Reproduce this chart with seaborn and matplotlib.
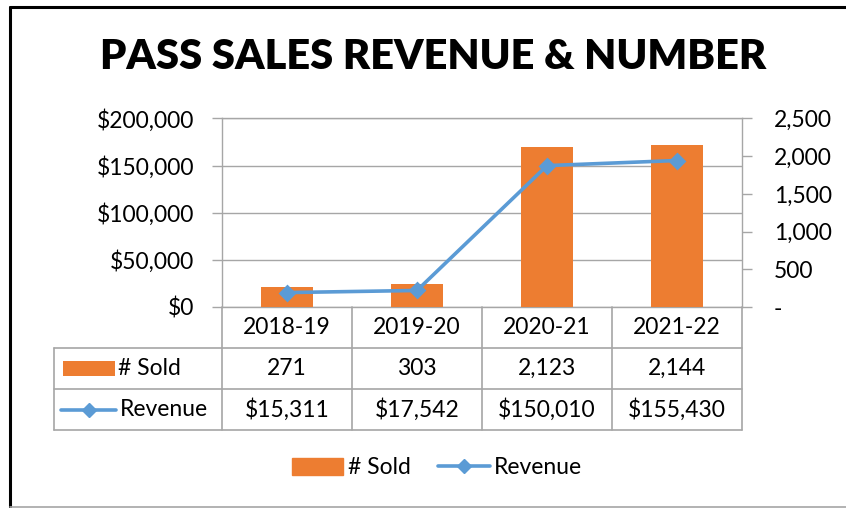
import numpy as np
import pandas as pd
import matplotlib
matplotlib.use('Agg')
import matplotlib.pyplot as plt
import matplotlib.transforms as mtransforms
from matplotlib.patches import Patch, Rectangle
from matplotlib.lines import Line2D
import seaborn as sns

#Data
seasons = ['2018-19', '2019-20', '2020-21', '2021-22']
passes_sold = [271, 303, 2123, 2144]
revenue = [15311, 17542, 150010, 155430]

left_ticks = [0, 50000, 100000, 150000, 200000]
left_labels = ['$0', '$50,000', '$100,000', '$150,000', '$200,000']
right_ticks = [0, 500, 1000, 1500, 2000, 2500]
right_labels = ['-', '500', '1,000', '1,500', '2,000', '2,500']

df = pd.DataFrame({'season': seasons, 'sold': passes_sold, 'revenue': revenue})

orange = '#ED7D31'
blue = '#5B9BD5'
gray = '#A6A6A6'

sns.set_style('white')
plt.rcParams['font.family'] = ['Lato', 'DejaVu Sans']
plt.rcParams['text.color'] = 'black'
plt.rcParams['ytick.labelcolor'] = 'black'

W, H = 846, 508
fig = plt.figure(figsize=(W / 100, H / 100), dpi=100)
pix = mtransforms.Affine2D().scale(1 / W, -1 / H).translate(0, 1) + fig.transFigure

#Plot area (pixels)
p_left, p_right, p_top, p_bottom = 222, 742, 118.5, 307
ax = fig.add_axes([p_left / W, 1 - p_bottom / H, (p_right - p_left) / W, (p_bottom - p_top) / H])
ax_bar = ax.twinx()
ax_line = ax.twinx()

#Bars on the right axis, revenue line on the left scale
sns.barplot(data=df, x='season', y='sold', ax=ax_bar, color=orange, width=0.4,
            saturation=1, linewidth=0)
sns.pointplot(data=df, x='season', y='revenue', ax=ax_line, color=blue, markers='D',
              markersize=6.8, linewidth=2.6, errorbar=None)

for a in (ax, ax_bar, ax_line):
    a.set_xlim(-0.5, len(seasons) - 0.5)
    a.set_xlabel('')
    a.set_ylabel('')
    a.tick_params(axis='x', bottom=False, labelbottom=False)

ax.set_ylim(0, 200000)
ax_line.set_ylim(0, 200000)
ax_bar.set_ylim(0, 2500)

ax.set_yticks(left_ticks)
ax.set_yticklabels(left_labels)
ax.grid(axis='y', color=gray, linewidth=1)
ax.tick_params(axis='y', left=True, length=7, width=1, color=gray, labelcolor='black',
               pad=13, labelsize=16.5)
ax_bar.set_yticks(right_ticks)
ax_bar.set_yticklabels(right_labels)
ax_bar.tick_params(axis='y', right=True, length=7, width=1, color=gray, labelcolor='black',
                   pad=16, labelsize=16.5)
for lab in ax_bar.get_yticklabels():
    lab.set_horizontalalignment('left')

ax.spines['right'].set_visible(False)
for s in ['left', 'top', 'bottom']:
    ax_bar.spines[s].set_visible(False)
for s in ['left', 'top', 'bottom']:
    ax.spines[s].set_color(gray)
    ax.spines[s].set_linewidth(1)
ax_bar.spines['right'].set_color(gray)
ax_bar.spines['right'].set_linewidth(1)
ax_line.set_axis_off()

#Title
fig.text(433 / W, 1 - 57 / H, 'PASS SALES REVENUE & NUMBER', ha='center', va='center',
         fontsize=30, fontweight='heavy', color='black')

#Data table below the plot
col_w = (p_right - p_left) / len(seasons)
edges = [p_left + col_w * i for i in range(len(seasons) + 1)]
rows = [307, 348, 389, 430]
t_left = 54
for x in edges:
    fig.add_artist(Line2D([x, x], [rows[0], rows[-1]], transform=pix, color=gray, lw=1.2))
fig.add_artist(Line2D([t_left, t_left], [rows[1], rows[-1]], transform=pix, color=gray, lw=1.2))
for y in rows[1:]:
    fig.add_artist(Line2D([t_left, p_right], [y, y], transform=pix, color=gray, lw=1.2))

sold_txt = [f'{v:,}' for v in passes_sold]
rev_txt = [f'${v:,}' for v in revenue]
for i, s in enumerate(seasons):
    cx = (edges[i] + edges[i + 1]) / 2
    fig.text(cx, (rows[0] + rows[1]) / 2, s, transform=pix, ha='center', va='center', fontsize=16.5)
    fig.text(cx, (rows[1] + rows[2]) / 2, sold_txt[i], transform=pix, ha='center', va='center', fontsize=16.5)
    fig.text(cx, (rows[2] + rows[3]) / 2, rev_txt[i], transform=pix, ha='center', va='center', fontsize=16.5)

#Row keys in the table
fig.add_artist(Rectangle((63, 361), 52, 15, transform=pix, color=orange, lw=0))
fig.text(118, 368.5, '# Sold', transform=pix, ha='left', va='center', fontsize=16.5)
fig.add_artist(Line2D([61, 116], [410, 410], transform=pix, color=blue, lw=2.6))
fig.add_artist(Line2D([88.5], [410], transform=pix, color=blue, marker='D', markersize=6.8))
fig.text(120, 409.5, 'Revenue', transform=pix, ha='left', va='center', fontsize=16.5)

#Legend
handles = [Patch(color=orange, label='# Sold'),
           Line2D([0], [0], color=blue, lw=2.6, marker='D', markersize=6.8, label='Revenue')]
fig.legend(handles=handles, loc='center', bbox_to_anchor=(437 / W, 1 - 468 / H), ncol=2,
           frameon=False, fontsize=16.5, handlelength=2.25, handleheight=0.7,
           handletextpad=0.2, columnspacing=1.2)

#Chart border
fig.add_artist(Line2D([9.5, W], [6.5, 6.5], transform=pix, color='black', lw=2.2))
fig.add_artist(Line2D([9.5, 9.5], [6.5, 507], transform=pix, color='black', lw=2.2))
fig.add_artist(Line2D([9.5, W], [507, 507], transform=pix, color=gray, lw=1.2))

fig.savefig('out.png', dpi=100)
